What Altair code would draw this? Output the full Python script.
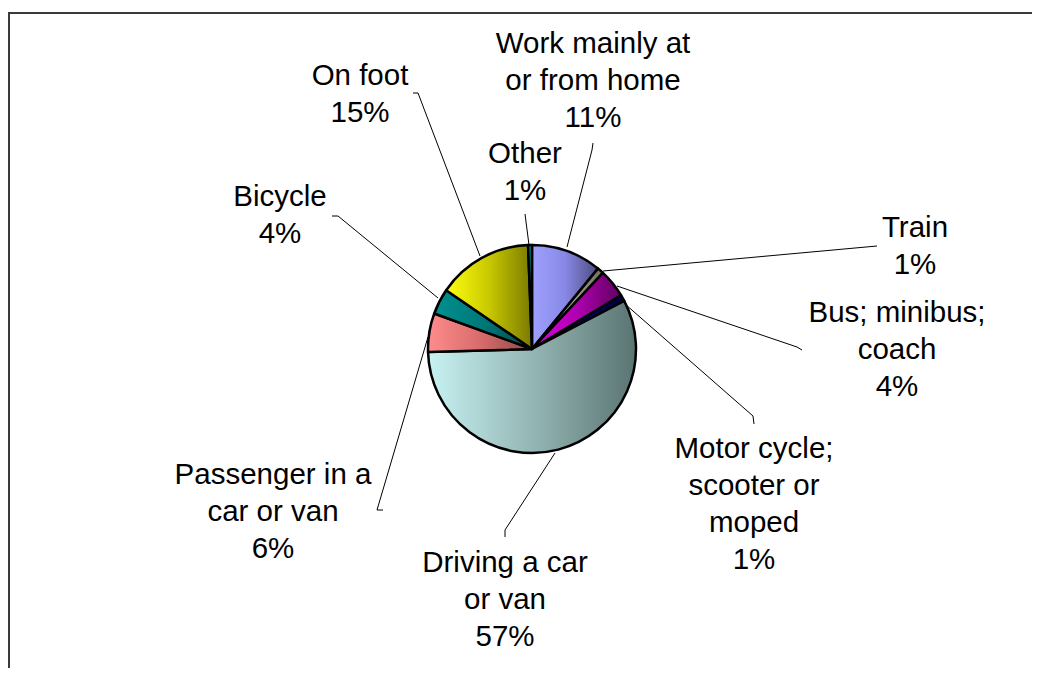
import altair as alt
import pandas as pd

# ---------------- data ----------------
categories = [
    "Work mainly at or from home", "Train", "Bus; minibus; coach",
    "Motor cycle; scooter or moped", "Driving a car or van",
    "Passenger in a car or van", "Bicycle", "On foot", "Other",
]
values = [10.9, 1.0, 4.4, 1.0, 57.0, 6.0, 4.0, 14.8, 0.6]
name_lines = [
    ["Work mainly at", "or from home"], ["Train"], ["Bus; minibus;", "coach"],
    ["Motor cycle;", "scooter or", "moped"], ["Driving a car", "or van"],
    ["Passenger in a", "car or van"], ["Bicycle"], ["On foot"], ["Other"],
]

# label anchor (centre x, first baseline y) in page coordinates
label_x = [593, 915, 897, 754, 505, 273, 280, 360, 525]
label_y = [53, 237, 322, 458, 572, 484, 206, 85, 163]

# leader line polylines in page coordinates
leader_x = [[593, 592, 567], [877, 603], [802, 797, 617], [754, 753, 625],
            [505, 505, 555], [383, 377, 428], [332, 338, 438], [413, 418, 480], [525, 529]]
leader_y = [[143, 150, 247], [246, 271], [350, 347, 286], [424, 416, 304],
            [537, 530, 453], [510, 510, 337], [216, 216, 298], [93, 93, 256], [214, 245]]

pie_cx, pie_cy, pie_r = 532, 349, 104
frame_x, frame_y = 9, 13

# slice colours (left -> right shading)
grad_colors = [
    ["#a0a0ff", "#8888e6", "#4c4c80"],
    ["#c8c8b0", "#a8a890", "#707060"],
    ["#e000e0", "#b000b0", "#600060"],
    ["#000090", "#000070", "#000040"],
    ["#c8f2f2", "#94b6b4", "#5a7472"],
    ["#ff8c8c", "#d86c6c", "#8c4848"],
    ["#009090", "#007878", "#004848"],
    ["#ffff10", "#c8c800", "#7a7a00"],
    ["#00b0b0", "#008888", "#005858"],
]

# ---------------- layout ----------------
W, H = 1024, 660
xs = alt.Scale(domain=[8, 8 + W], range=[0, W])
ys = alt.Scale(domain=[8, 8 + H], range=[0, H])

total = sum(values)
pcts = [f"{round(v / total * 100)}%" for v in values]

pie_df = pd.DataFrame({
    "name": categories, "value": values, "order": list(range(len(values))),
    "cx": [pie_cx] * len(values), "cy": [pie_cy] * len(values),
})

text_df = pd.DataFrame({
    "name": categories,
    "lines": [nl + [p] for nl, p in zip(name_lines, pcts)],
    "lx": label_x, "ly": label_y,
})

rows = []
for name, xsq, ysq in zip(categories, leader_x, leader_y):
    for k, (a, b) in enumerate(zip(xsq, ysq)):
        rows.append({"name": name, "seq": k, "px": a, "py": b})
lead_df = pd.DataFrame(rows)

frame_df = pd.DataFrame({"x": [frame_x], "y": [frame_y], "x2": [1300], "y2": [1000]})

frame = alt.Chart(frame_df).mark_rect(
    fill="white", stroke="#3a3a3a", strokeWidth=2
).encode(
    x=alt.X("x:Q", scale=xs, axis=None), y=alt.Y("y:Q", scale=ys, axis=None),
    x2="x2:Q", y2="y2:Q",
)

leaders = alt.Chart(lead_df).mark_line(color="black", strokeWidth=1).encode(
    x=alt.X("px:Q", scale=xs, axis=None),
    y=alt.Y("py:Q", scale=ys, axis=None),
    detail="name:N",
    order="seq:Q",
)

arcs = []
for cat, cols in zip(categories, grad_colors):
    grad = alt.LinearGradient(
        gradient="linear",
        stops=[alt.GradientStop(color=cols[0], offset=0),
               alt.GradientStop(color=cols[1], offset=0.5),
               alt.GradientStop(color=cols[2], offset=1)],
        x1=0, x2=1, y1=0, y2=0,
    )
    arcs.append(
        alt.Chart(pie_df)
        .transform_window(cum="sum(value)", sort=[alt.SortField("order")], frame=[None, 0])
        .transform_calculate(start="datum.cum - datum.value")
        .transform_filter(alt.datum.name == cat)
        .mark_arc(outerRadius=pie_r, fill=grad, stroke="black", strokeWidth=2.5, strokeJoin="round")
        .encode(
            theta=alt.Theta("start:Q", scale=alt.Scale(domain=[0, total])),
            theta2="cum:Q",
            x=alt.X("cx:Q", scale=xs, axis=None),
            y=alt.Y("cy:Q", scale=ys, axis=None),
        )
    )

labels = alt.Chart(text_df).mark_text(
    align="center", baseline="alphabetic", font="Liberation Sans",
    fontSize=29.5, lineHeight=37, color="black",
).encode(
    x=alt.X("lx:Q", scale=xs, axis=None),
    y=alt.Y("ly:Q", scale=ys, axis=None),
    text="lines:N",
)

chart = alt.layer(frame, leaders, *arcs, labels).properties(
    width=W, height=H, autosize="none", padding=0, background="white"
).configure_view(stroke=None)

chart.save("out.html", embed_options={"renderer": "svg", "actions": False})
